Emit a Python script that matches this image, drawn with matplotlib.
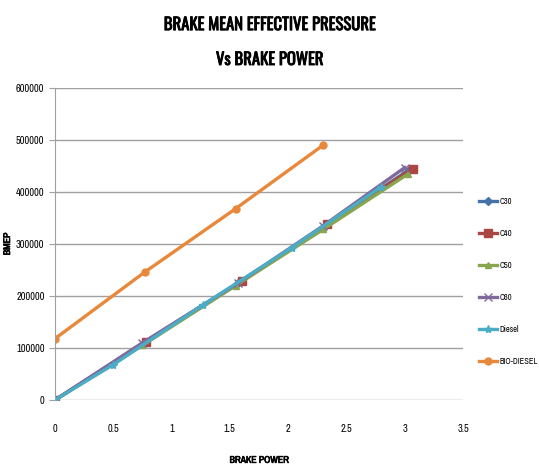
import matplotlib
matplotlib.use('Agg')
import matplotlib.pyplot as plt
import matplotlib.patheffects as pe
from matplotlib import font_manager

# 找一个可用的窄体字体
names = {f.name for f in font_manager.fontManager.ttflist}


def pick(cands):
    for c in cands:
        if c in names:
            return c
    return 'DejaVu Sans'


title_font = pick(['Oswald', 'Fjalla One', 'PT Sans Narrow', 'Archivo Narrow', 'Roboto Condensed',
                   'Open Sans Condensed', 'Liberation Sans Narrow'])
body_font = pick(['Archivo Narrow', 'PT Sans Narrow', 'Roboto Condensed', 'Open Sans Condensed',
                  'Pragati Narrow', 'Liberation Sans Narrow', 'Oswald'])
plt.rcParams['font.family'] = [body_font, 'DejaVu Sans']

# 数据
c30_x = [0, 0.76, 1.57, 2.32, 3.04]
c30_y = [0, 110000, 225000, 335000, 443000]
c40_x = [0, 0.78, 1.60, 2.33, 3.07]
c40_y = [0, 112000, 228000, 338000, 445000]
c50_x = [0, 0.75, 1.55, 2.30, 3.03]
c50_y = [0, 105000, 220000, 328000, 435000]
c60_x = [0, 0.75, 1.57, 2.30, 3.00]
c60_y = [0, 110000, 225000, 335000, 447000]
diesel_x = [0, 0.50, 1.27, 2.03, 2.80]
diesel_y = [0, 68000, 183000, 293000, 410000]
bio_x = [0, 0.77, 1.55, 2.30]
bio_y = [118000, 246000, 368000, 490000]

series = [
    ('C30', c30_x, c30_y, '#4572a7', 'D', 4),
    ('C40', c40_x, c40_y, '#aa4643', 's', 6),
    ('C50', c50_x, c50_y, '#89a54e', '^', 5),
    ('C60', c60_x, c60_y, '#80699b', 'x', 6),
    ('Diesel', diesel_x, diesel_y, '#4bacc6', '*', 6),
    ('BIO-DIESEL', bio_x, bio_y, '#e8883a', 'o', 5),
]

fig = plt.figure(figsize=(5.39, 4.65), dpi=100)
ax = fig.add_axes([55 / 539, 65 / 465, 408 / 539, 312 / 465])

for name, xs, ys, col, mk, ms in series:
    ax.plot(xs, ys, color=col, lw=2.4, marker=mk, markersize=ms,
            markeredgecolor=col, label=name)

ax.set_xlim(0, 3.5)
ax.set_ylim(0, 600000)
ax.set_xticks([0, 0.5, 1, 1.5, 2, 2.5, 3, 3.5])
ax.set_xticklabels(['0', '0.5', '1', '1.5', '2', '2.5', '3', '3.5'])
ax.set_yticks(range(0, 600001, 100000))
ax.yaxis.grid(True, color='#a0a0a0', lw=1)
ax.set_axisbelow(True)
for s in ['top', 'right', 'bottom']:
    ax.spines[s].set_visible(False)
ax.spines['left'].set_color('#a0a0a0')
ax.tick_params(axis='x', length=0, labelsize=7.5, pad=17)
ax.tick_params(axis='y', length=4, color='#a0a0a0', labelsize=7.5)

bold = [pe.withStroke(linewidth=0.5, foreground='black')]
ax.set_xlabel('BRAKE POWER', fontsize=7, fontweight='bold', labelpad=16, path_effects=bold)
ax.set_ylabel('BMEP', fontsize=7, fontweight='bold', path_effects=bold)
ax.yaxis.set_label_coords(-43 / 408, 0.5)

tb = [pe.withStroke(linewidth=0.6, foreground='black')]
fig.text(0.5, 0.947, 'BRAKE MEAN EFFECTIVE PRESSURE', ha='center', va='center',
         fontsize=12, fontweight='bold', family=[title_font, 'DejaVu Sans'], path_effects=tb)
fig.text(0.5, 0.872, 'Vs BRAKE POWER', ha='center', va='center',
         fontsize=12, fontweight='bold', family=[title_font, 'DejaVu Sans'], path_effects=tb)

ax.legend(loc='center left', bbox_to_anchor=(1.02, 0.38), frameon=False,
          fontsize=6, labelspacing=2.75, handlelength=2.2, handletextpad=0.3)

fig.savefig('out.png', dpi=100)
